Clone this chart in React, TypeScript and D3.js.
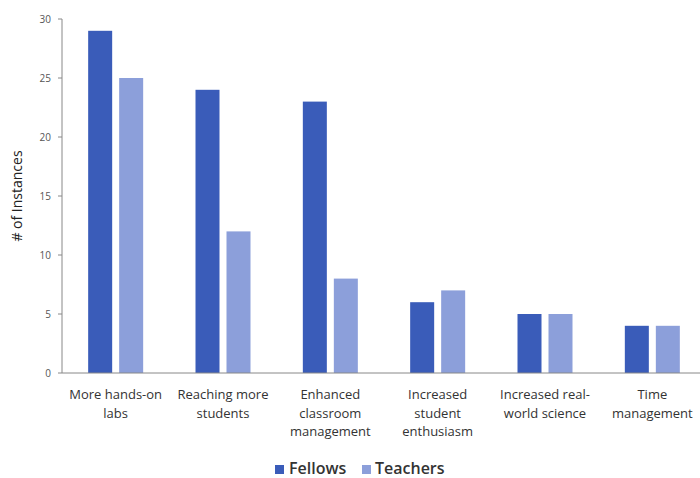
import React from "react";
import * as d3 from "d3";

const categories: string[][] = [
  ["More hands-on", "labs"],
  ["Reaching more", "students"],
  ["Enhanced", "classroom", "management"],
  ["Increased", "student", "enthusiasm"],
  ["Increased real-", "world science"],
  ["Time", "management"],
];
const fellows = [29, 24, 23, 6, 5, 4];
const teachers = [25, 12, 8, 7, 5, 4];
const yTicks = [0, 5, 10, 15, 20, 25, 30];
const seriesNames = ["Fellows", "Teachers"];
const colors = ["#3a5cb9", "#8c9fda"];

export default function App() {
  const W = 700, H = 478;
  const x = d3.scaleBand<number>().domain(d3.range(categories.length)).range([62, 706]);
  const y = d3.scaleLinear().domain([0, 30]).range([373, 19]);
  const barW = 24;
  const gap = 7;
  const font = "'Open Sans', 'Liberation Sans', sans-serif";
  return (
    <svg width={W} height={H} style={{ position: "absolute", left: 0, top: 0, background: "#fff" }} fontFamily={font}>
      {/* y axis */}
      <line x1={62} x2={62} y1={y(30)} y2={y(0)} stroke="#888" strokeWidth={1} />
      {yTicks.map((t) => (
        <g key={t}>
          <line x1={58} x2={62} y1={y(t)} y2={y(t)} stroke="#888" />
          <text x={51} y={y(t)} dy="0.35em" textAnchor="end" fontSize={10} fill="#555">{t}</text>
        </g>
      ))}
      <text transform={`translate(22,${(y(0) + y(30)) / 2}) rotate(-90)`} textAnchor="middle" fontSize={14} fill="#222">
        # of Instances
      </text>
      {/* bars */}
      {categories.map((_, i) => {
        const c = (x(i) as number) + x.bandwidth() / 2;
        return (
          <g key={i}>
            <rect x={c - gap / 2 - barW} y={y(fellows[i])} width={barW} height={y(0) - y(fellows[i])} fill={colors[0]} />
            <rect x={c + gap / 2} y={y(teachers[i])} width={barW} height={y(0) - y(teachers[i])} fill={colors[1]} />
          </g>
        );
      })}
      {/* x axis */}
      <line x1={62} x2={W} y1={y(0)} y2={y(0)} stroke="#888" strokeWidth={1} />
      {categories.map((lines, i) => {
        const c = (x(i) as number) + x.bandwidth() / 2;
        return (
          <text key={i} x={c} y={399} textAnchor="middle" fontSize={13} fill="#333">
            {lines.map((l, j) => (
              <tspan key={j} x={c} dy={j === 0 ? 0 : 18.5}>{l}</tspan>
            ))}
          </text>
        );
      })}
      {/* legend */}
      <g>
        <rect x={275} y={465} width={9} height={9} fill={colors[0]} />
        <text x={289} y={474} fontSize={16} fontWeight={600} fill="#333">{seriesNames[0]}</text>
        <rect x={362} y={465} width={9} height={9} fill={colors[1]} />
        <text x={375} y={474} fontSize={16} fontWeight={600} fill="#333">{seriesNames[1]}</text>
      </g>
    </svg>
  );
}
